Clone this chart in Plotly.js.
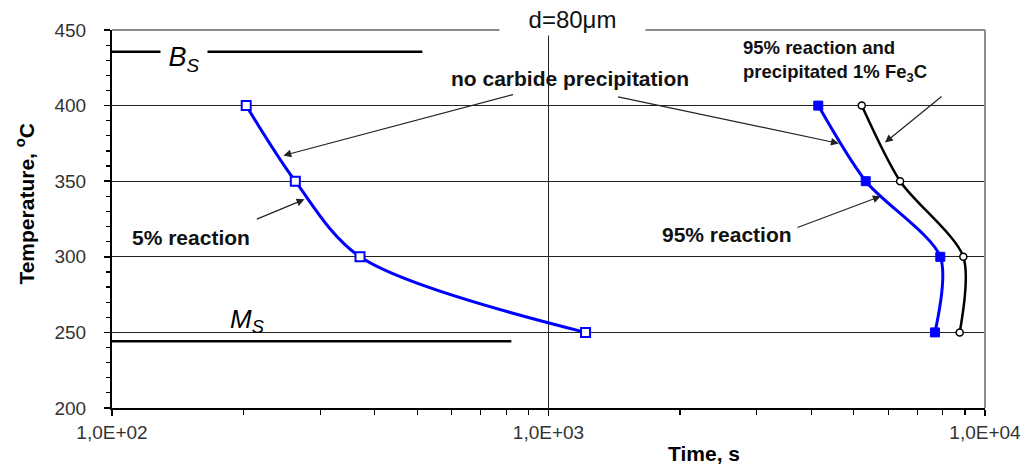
<!DOCTYPE html>
<html><head><meta charset="utf-8">
<script src="https://cdn.plot.ly/plotly-3.0.1.min.js"></script>
<style>html,body{margin:0;padding:0;background:#fff}#chart{width:1023px;height:465px}</style>
</head><body><div id="chart"></div>
<script>
// Temperatures (°C)
const temps = [400, 350, 300, 250];
// Time (s) for 5% reaction
const time5 = [203, 263, 370, 1216];
// Time (s) for 95% reaction
const time95 = [4150, 5330, 7900, 7680];
// Time (s) for 95% reaction and 1% Fe3C precipitated
const time95c = [5220, 6390, 8920, 8750];
// Bainite start / martensite start reference lines
const bsTemp = 435.6, bsX = [100, 514];
const msTemp = 244.2, msX = [100, 822];
// tick labels
const xTickVals = [100, 1000, 10000];
const xTickText = ['1,0E+02', '1,0E+03', '1,0E+04'];
const xMinorVals = [200,300,400,500,600,700,800,900,2000,3000,4000,5000,6000,7000,8000,9000];

const L = Math.log10;
const FONT = 'Liberation Sans, Arial, sans-serif';

const traces = [
  {x: bsX, y: [bsTemp, bsTemp], mode: 'lines', line: {color: '#000', width: 2.5}, hoverinfo: 'skip'},
  {x: msX, y: [msTemp, msTemp], mode: 'lines', line: {color: '#000', width: 2.5}, hoverinfo: 'skip'},
  {x: time5, y: temps, mode: 'lines+markers', line: {color: '#0000ff', width: 3, shape: 'spline', smoothing: 0.9},
   marker: {symbol: 'square', size: 9, color: '#fff', line: {color: '#0000ff', width: 2}}},
  {x: time95c, y: temps, mode: 'lines+markers', line: {color: '#000', width: 2.5, shape: 'spline', smoothing: 0.8},
   marker: {symbol: 'circle', size: 7, color: '#fff', line: {color: '#000', width: 1.5}}},
  {x: time95, y: temps, mode: 'lines+markers', line: {color: '#0000ff', width: 3, shape: 'spline', smoothing: 0.8},
   marker: {symbol: 'square', size: 9, color: '#0000ff', line: {color: '#0000ff', width: 1}}}
];

const lbl = {family: FONT, size: 21, color: '#111', weight: 'bold'};
function arrow(x, y, ax, ay) {
  return {x: L(x), y: y, xref: 'x', yref: 'y', ax: L(ax), ay: ay, axref: 'x', ayref: 'y',
    text: '', showarrow: true, arrowhead: 2, arrowsize: 1.3, arrowwidth: 1.2, arrowcolor: '#222'};
}

const layout = {
  width: 1023, height: 465,
  margin: {l: 112, r: 38, t: 30, b: 57},
  paper_bgcolor: '#fff', plot_bgcolor: '#fff',
  showlegend: false,
  font: {family: FONT, size: 19, color: '#222'},
  xaxis: {
    type: 'log', range: [2, 4],
    tickmode: 'array', tickvals: xTickVals, ticktext: xTickText,
    ticks: 'outside', ticklen: 6, tickcolor: '#000', tickwidth: 1.5,
    showline: true, linecolor: '#000', linewidth: 2,
    showgrid: true, gridcolor: '#222', gridwidth: 1,
    zeroline: false,
    tickfont: {family: FONT, size: 19, color: '#333'},
    minor: {tickmode: 'array', tickvals: xMinorVals, ticks: 'outside', ticklen: 5, tickcolor: '#000', tickwidth: 1.2, showgrid: false}
  },
  yaxis: {
    range: [200, 450], dtick: 50, tick0: 200,
    ticks: 'outside', ticklen: 6, tickcolor: '#000', tickwidth: 1.5,
    showline: true, linecolor: '#000', linewidth: 2,
    showgrid: true, gridcolor: '#222', gridwidth: 1,
    zeroline: false,
    ticklabelstandoff: 14,
    tickfont: {family: FONT, size: 19, color: '#333'},
    minor: {dtick: 10, ticks: 'outside', ticklen: 4, tickcolor: '#000', tickwidth: 1.2, showgrid: false}
  },
  shapes: [
    {type: 'line', xref: 'paper', yref: 'paper', x0: 0, x1: 1, y0: 1, y1: 1, line: {color: '#8c8c8c', width: 2}, layer: 'above'},
    {type: 'line', xref: 'paper', yref: 'paper', x0: 1, x1: 1, y0: 0, y1: 1, line: {color: '#8c8c8c', width: 2}, layer: 'above'}
  ],
  annotations: [
    {xref: 'paper', yref: 'paper', x: 0.527, y: 1.029, xanchor: 'center', yanchor: 'middle',
     text: 'd=80μm', showarrow: false, bgcolor: '#fff', width: 145, height: 32, borderpad: 0,
     font: {family: FONT, size: 24, color: '#111'}},
    {xref: 'x', yref: 'y', x: L(146), y: 431, text: '<i>B<sub>S</sub></i>', showarrow: false,
     bgcolor: '#fff', width: 46, borderpad: 0, font: {family: FONT, size: 27, color: '#000'}},
    {xref: 'x', yref: 'y', x: L(204), y: 258, text: '<i>M<sub>S</sub></i>', showarrow: false,
     font: {family: FONT, size: 26, color: '#000'}},
    {xref: 'x', yref: 'y', x: L(1122), y: 418, text: 'no carbide precipitation', showarrow: false, font: lbl},
    {xref: 'x', yref: 'y', x: L(152), y: 312.5, text: '5% reaction', showarrow: false, font: lbl},
    {xref: 'x', yref: 'y', x: L(2560), y: 315, text: '95% reaction', showarrow: false, font: lbl},
    {xref: 'x', yref: 'y', x: L(2754), y: 429.5, xanchor: 'left', align: 'left',
     text: '95% reaction and<br>precipitated 1% Fe<sub>3</sub>C', showarrow: false,
     font: {family: FONT, size: 18.5, color: '#111', weight: 'bold'}},
    arrow(247, 367, 836, 407.5),
    arrow(4624, 375, 1432, 406),
    arrow(276, 338, 213, 324.5),
    arrow(5768, 340, 3690, 319),
    arrow(5900, 375.6, 8017, 406.8),
    {xref: 'paper', yref: 'paper', x: 0.678, y: -0.12, xanchor: 'center', yanchor: 'middle',
     text: 'Time, s', showarrow: false, font: {family: FONT, size: 21, color: '#000', weight: 'bold'}},
    {xref: 'paper', yref: 'paper', x: -0.1, y: 0.54, xanchor: 'center', yanchor: 'middle', textangle: -90,
     text: 'Temperature, <sup>o</sup>C', showarrow: false, font: {family: FONT, size: 21, color: '#000', weight: 'bold'}}
  ]
};

Plotly.newPlot('chart', traces, layout, {staticPlot: true, displayModeBar: false});
</script>
</body></html>
